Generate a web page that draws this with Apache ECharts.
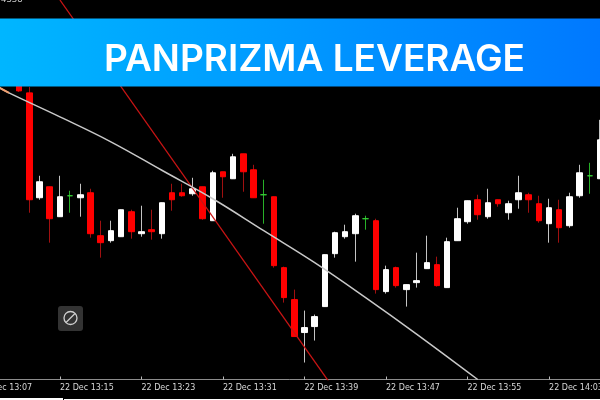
<!DOCTYPE html>
<html><head><meta charset="utf-8">
<style>html,body{margin:0;padding:0;background:#000;width:600px;height:400px;overflow:hidden}#c{position:absolute;left:-27px;top:0;width:633px;height:400px}</style>
<script src="https://cdn.jsdelivr.net/npm/echarts@6/dist/echarts.min.js"></script>
</head><body><div id="c"></div>
<script>
var startMinute = 7;            // 13:07
var opens  = [null,null,null,null,4330,4328.7,4318.2,4319.3,4316.3,4318.4,4318.2,4318.7,4314.4,4313.9,4314.3,4316.8,4314.6,4315,4314.6,4318.7,4318.7,4318.6,4319.3,4315.9,4320.8,4320.1,4322.6,4321,4318.5,4318.3,4311.2,4308,4304.7,4305.3,4307.3,4312.6,4314.3,4314.6,4316.1,4315.9,4308.8,4311.2,4309,4309.7,4311.1,4311.5,4309.2,4313.9,4315.8,4318,4316.3,4318,4316.7,4318,4318.5,4317.6,4315.6,4317,4315.4,4318.4,4320.4,4320.1];
var closes = [null,null,null,null,4328.9,4318,4319.8,4316.1,4318.3,4318.4,4318.5,4314.6,4313.7,4314.9,4317,4314.8,4314.8,4314.8,4317.7,4318,4318.4,4319.1,4316.1,4320.7,4320.3,4322.3,4320.8,4318.2,4318.5,4311.4,4308.2,4304.3,4305.2,4306.3,4312.5,4314.7,4314.8,4316.4,4316.1,4309,4311,4309.4,4309.5,4309.9,4311.7,4309.4,4313.8,4316.1,4317.9,4316.5,4317.7,4317.6,4317.6,4318.7,4318,4315.9,4317.2,4315.2,4318.3,4320.7,4320.4,4324];
var lows   = [null,null,null,null,4328.8,4316.7,4318,4313.7,4316.3,4316.7,4316.3,4314.2,4312.2,4313.7,4314.3,4314.1,4314.3,4314,4314.1,4316.9,4318.3,4318.4,4316,4315.9,4318.2,4320.1,4318.8,4318.2,4315.6,4311.2,4307.7,4304.3,4301.7,4303.9,4307.3,4312.2,4314.1,4311.8,4315,4308.6,4308.6,4309.2,4307.3,4309.2,4311.1,4309.3,4309.2,4313.9,4315.6,4316,4316.1,4317.3,4316,4317.1,4316.7,4315.7,4313.7,4313.7,4315.2,4318.2,4318.6,4320.1];
var highs  = [null,null,null,null,4330.2,4329.3,4320.4,4319.3,4320.4,4318.9,4319.6,4319.1,4315.9,4315.9,4317,4317,4317.4,4317,4317.7,4319.6,4319.6,4320.2,4319.3,4320.9,4320.8,4322.6,4322.6,4321.5,4320,4318.3,4311.3,4309,4306.9,4306.5,4312.5,4314.8,4315.5,4316.6,4316.4,4316.1,4311.4,4311.3,4309.5,4312.7,4314.4,4312.3,4314.2,4317.2,4317.9,4318.5,4319.1,4318,4317.9,4320.4,4318.7,4318.4,4318.1,4318,4318.7,4321.5,4321.7,4326];
var trendCurve = [null,null,4329.25,4328.7,null,null,null,null,4326.3,null,null,null,null,4323.8,null,null,null,null,4320.95,null,null,null,null,4318.1,null,null,null,null,4314.9,null,null,null,null,4311.7,null,null,null,null,4308.2,null,null,null,null,4304.55,null,null,null,null,null,4300];
var trendStart = [null,null,4329.25,4328.7];
var redLine = [null,null,null,null,null,null,null,null,4338,null,null,null,null,null,null,null,null,null,null,null,null,null,null,null,null,null,null,null,null,null,null,null,null,null,null,4298.9];
var priceMin = 4300, priceMax = 4338;
var axisLabels = opens.map(function(_, i){
  var m = startMinute + i, h = 13 + Math.floor(m / 60); m = m % 60;
  return '22 Dec ' + h + ':' + (m < 10 ? '0' + m : m);
});
var title = 'PANPRIZMA LEVERAGE', priceTag = '4338';
var WHITE='#ffffff', RED='#ff0000', GREEN='#35d035';
var WICK_WHITE='#c4c4c4', WICK_RED='#a01010', WICK_GREEN='#28b028';
function pick(o,c,a,b,d){return c>o?a:(c<o?b:d);}
var wickData = opens.map(function(o,i){
  if(o===null) return '-';
  var col = pick(o,closes[i],WICK_WHITE,WICK_RED,WICK_GREEN);
  return {value:[o,closes[i],lows[i],highs[i]], itemStyle:{color:col,color0:col,borderColor:col,borderColor0:col,borderWidth:1}};
});
var bodyData = opens.map(function(o,i){
  if(o===null) return '-';
  var c=closes[i], col = pick(o,c,WHITE,RED,GREEN);
  return {value:[o,c,Math.min(o,c),Math.max(o,c)], itemStyle:{color:col,color0:col,borderColor:col,borderColor0:col,borderWidth:1}};
});
var chart = echarts.init(document.getElementById('c'),null,{renderer:'canvas'});
var font='"DejaVu Sans"';
chart.setOption({
  animation:false, backgroundColor:'#000',
  grid:{left:0.3,right:0.9,top:0,bottom:20.5,containLabel:false},
  xAxis:{type:'category',data:axisLabels,boundaryGap:true,
    axisLine:{show:true,onZero:false,lineStyle:{color:'#8c8c8c',width:1}},
    axisTick:{show:true,alignWithLabel:true,interval:7,length:3,inside:true,lineStyle:{color:'#bbb'}},
    axisLabel:{interval:7,color:'#d8d8d8',fontFamily:font,fontSize:8,align:'left',margin:4,showMinLabel:true,hideOverlap:false},
    splitLine:{show:false}},
  yAxis:{type:'value',min:priceMin,max:priceMax,show:false,splitLine:{show:false}},
  series:[
    {type:'candlestick',name:'wick',data:wickData,barWidth:1,z:2},
    {type:'candlestick',name:'body',data:bodyData,barWidth:6,z:3},
    {type:'line',name:'curve',data:trendCurve,connectNulls:true,smooth:0.4,showSymbol:false,symbol:'none',lineStyle:{color:'#c8c8c8',width:1.5},z:5},
    {type:'line',name:'start',data:trendStart,connectNulls:true,showSymbol:false,symbol:'none',lineStyle:{color:'#f0a070',width:2},z:6},
    {type:'line',name:'red',data:redLine,connectNulls:true,showSymbol:false,symbol:'none',lineStyle:{color:'#c81414',width:1.3},z:4}
  ],
  graphic:[{type:'group',x:27,y:0,children:[
    {type:'text',z:20,style:{x:1,y:-5,text:priceTag,fill:'#cccccc',font:'8.5px "DejaVu Sans"'}},
    {type:'rect',z:30,shape:{x:0,y:18.5,width:606,height:68},style:{fill:new echarts.graphic.LinearGradient(0,0,1,0,[{offset:0,color:'#00b6ff'},{offset:1,color:'#0078ff'}])}},
    {type:'text',z:31,style:{x:314.5,y:60,text:title,fill:'#fff',align:'center',verticalAlign:'middle',font:'600 37px Inter'}},
    {type:'rect',z:20,shape:{x:58,y:306,width:25,height:25,r:3},style:{fill:'#333333'}},
    {type:'circle',z:21,shape:{cx:70.5,cy:318,r:6.5},style:{fill:'none',stroke:'#d0d0d0',lineWidth:1.3}},
    {type:'line',z:21,shape:{x1:66,y1:322.5,x2:75,y2:313.5},style:{stroke:'#d0d0d0',lineWidth:1.3}},
    {type:'rect',z:20,shape:{x:0,y:398,width:606,height:2},style:{fill:'#fff'}},
    {type:'rect',z:21,shape:{x:63,y:398,width:543,height:1},style:{fill:'#000'}},
    {type:'rect',z:21,shape:{x:63,y:398,width:1,height:2},style:{fill:'#000'}}
  ]}]
});
</script></body></html>
